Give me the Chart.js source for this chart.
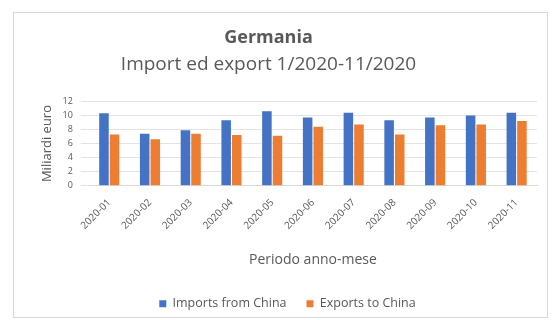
<!DOCTYPE html>
<html>
<head>
<meta charset="utf-8">
<script src="https://cdn.jsdelivr.net/npm/chart.js@4"></script>
<style>
  html, body { margin: 0; padding: 0; background: #fff; }
  #box { position: absolute; left: 13px; top: 12px; width: 535px; height: 306px; border: 1px solid #d9d9d9; box-sizing: border-box; }
  #wrap { position: absolute; left: 0; top: 0; width: 553px; height: 320px; }
</style>
</head>
<body>
<div id="box"></div>
<div id="wrap"><canvas id="c" width="553" height="320"></canvas></div>
<script>
const months = ['2020-01', '2020-02', '2020-03', '2020-04', '2020-05', '2020-06', '2020-07', '2020-08', '2020-09', '2020-10', '2020-11']
const imports = [10.3, 7.4, 7.9, 9.3, 10.6, 9.7, 10.4, 9.3, 9.7, 10.0, 10.4]
const exports = [7.3, 6.6, 7.4, 7.2, 7.1, 8.4, 8.7, 7.3, 8.6, 8.7, 9.2]

const font = 'Open Sans'
const grey = '#595959'

// legend sits a bit right of the titles in the original
const shiftLegend = {
  id: 'shiftLegend',
  afterLayout(chart) {
    chart.legend.left += 38
  }
}

new Chart(document.getElementById('c'), {
  type: 'bar',
  data: {
    labels: months,
    datasets: [
      { label: 'Imports from China', data: imports, backgroundColor: '#4472C4', barPercentage: 0.9, categoryPercentage: 0.52 },
      { label: 'Exports to China', data: exports, backgroundColor: '#ED7D31', barPercentage: 0.9, categoryPercentage: 0.52 }
    ]
  },
  options: {
    responsive: false,
    animation: false,
    layout: { padding: { left: 0, right: 16, top: 27, bottom: 0 } },
    plugins: {
      title: { display: true, text: 'Germania', color: grey, font: { family: font, size: 18, weight: 'bold' }, padding: { top: 0, bottom: 5 } },
      subtitle: { display: true, text: 'Import ed export 1/2020-11/2020', color: grey, font: { family: font, size: 19 }, padding: { bottom: 25 } },
      legend: {
        position: 'bottom',
        labels: { boxWidth: 7, boxHeight: 7, color: grey, font: { family: font, size: 12.5 }, padding: 20 }
      },
      tooltip: { enabled: false }
    },
    scales: {
      x: {
        grid: { display: false },
        border: { color: '#d9d9d9' },
        ticks: { color: grey, font: { family: font, size: 10 }, minRotation: 45, maxRotation: 45 },
        title: { display: true, text: 'Periodo anno-mese', color: grey, font: { family: font, size: 14 }, padding: { top: 17, bottom: 9 } }
      },
      y: {
        min: 0, max: 12,
        grid: { color: '#e3e3e3' },
        border: { display: false },
        ticks: { stepSize: 2, color: grey, font: { family: font, size: 9 }, padding: 8 },
        title: { display: true, text: 'Miliardi euro', color: grey, font: { family: font, size: 13 }, padding: { top: 39, bottom: 0 } }
      }
    }
  },
  plugins: [shiftLegend]
})
</script>
</body>
</html>
